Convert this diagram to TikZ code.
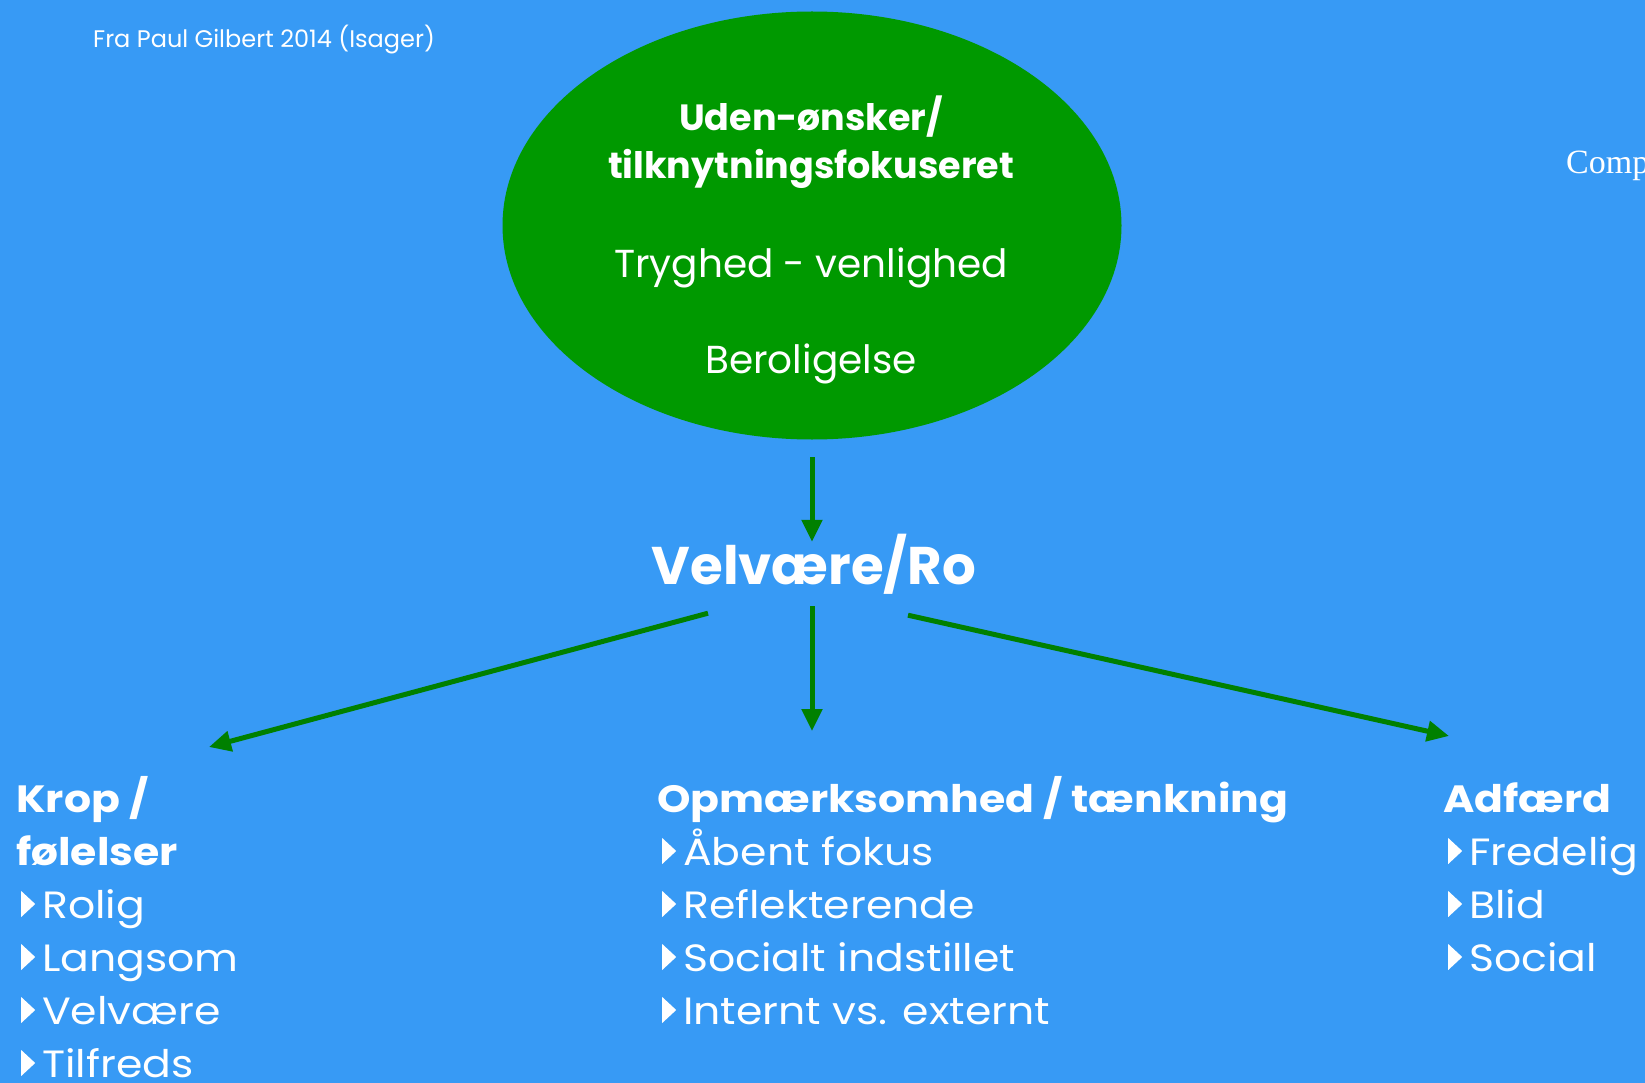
\documentclass[tikz,border=0pt]{standalone}
\usepackage{fontspec}
\setmainfont{Poppins}
\newfontfamily\widefont{Poppins}[FakeStretch=1.12]
\newfontfamily\serifcomp{Liberation Serif}
\usetikzlibrary{shapes.geometric, arrows.meta, positioning, calc}
\definecolor{skyblue}{RGB}{55,154,245}
\definecolor{calmgreen}{RGB}{0,153,0}
\definecolor{arrowgreen}{RGB}{0,128,0}
% small white list marker
\newcommand{\tri}{\hspace*{5pt}\tikz[baseline=0pt]\fill[white] (0pt,1pt) -- (0pt,27pt) -- (14pt,14pt) -- cycle;\hspace{7pt}}

\begin{document}
\begin{tikzpicture}[
    x=1pt, y=-1pt,
    txt/.style={text=white, inner sep=0pt},
    head/.style={txt, font=\fontsize{36.5}{48}\selectfont\bfseries},
    plain/.style={txt, font=\fontsize{39}{48}\selectfont},
    column/.style={txt, align=left, anchor=base west, font=\widefont\fontsize{38}{53}\selectfont},
    flow/.style={draw=arrowgreen, line width=5pt, -{Triangle[length=22pt, width=20pt]}},
]
\useasboundingbox (0,0) rectangle (1645,1083);
\fill[skyblue] (0,0) rectangle (1645,1083);

% Source notes
\node[txt, anchor=base west, font=\fontsize{24}{28}\selectfont] (src) at (93,48) {Fra Paul Gilbert 2014 (Isager)};
\node[txt, anchor=base west, font=\serifcomp\fontsize{34}{40}\selectfont] (comp) at (1566,174) {Comp};

% Soothing system
\node[ellipse, fill=calmgreen, minimum width=619pt, minimum height=428pt, inner sep=0pt] (safe) at (812,225.5) {};
\node[head, anchor=base] (uden) at (811,131) {Uden-ønsker/};
\node[head, anchor=base] (tilk) at (811,179) {tilknytningsfokuseret};
\node[plain, anchor=base] (tryg) at (811,277) {Tryghed - venlighed};
\node[plain, anchor=base] (berol) at (811,373) {Beroligelse};

% Centre
\node[txt, anchor=base, font=\fontsize{53}{60}\selectfont\bfseries, text height=37pt, text depth=0pt] (ro) at (814,584) {Velvære/Ro};

% Three columns (anchored at the baseline of their last line)
\node[column] (krop) at (16,1077) {\textbf{Krop /}\\ \textbf{følelser}\\ \tri Rolig\\ \tri Langsom\\ \tri Velvære\\ \tri Tilfreds};
\node[column] (opm) at (657,1024) {\textbf{Opmærksomhed / tænkning}\\ \tri Åbent fokus\\ \tri Reflekterende\\ \tri Socialt indstillet\\ \tri Internt vs. externt};
\node[column] (adf) at (1443,971) {\textbf{Adfærd}\\ \tri Fredelig\\ \tri Blid\\ \tri Social};

% Arrows
\coordinate (kropin) at (209,747);
\coordinate (opmin) at (812,731);
\coordinate (adfin) at (1449,736);
\draw[flow, shorten <=17.5pt, shorten >=5pt] (safe.south) -- (safe.south |- ro.north);
\draw[flow] ([xshift=-106pt, yshift=-29pt]ro.south) -- (kropin);
\draw[flow] ([xshift=-2pt, yshift=-22pt]ro.south) -- (opmin);
\draw[flow] ([xshift=94pt, yshift=-31pt]ro.south) -- (adfin);

\end{tikzpicture}
\end{document}
